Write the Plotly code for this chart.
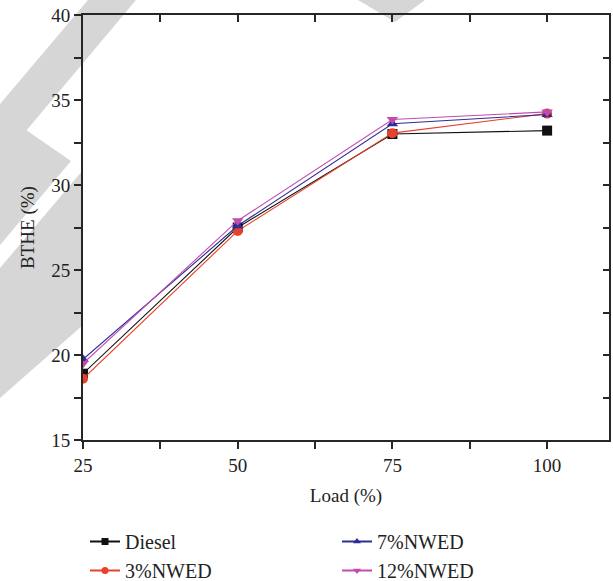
import plotly.graph_objects as go

# Brake thermal efficiency versus engine load
load = [25, 50, 75, 100]
diesel = [18.9, 27.5, 33.0, 33.2]
nwed3 = [18.6, 27.3, 33.05, 34.2]
nwed7 = [19.75, 27.6, 33.6, 34.15]
nwed12 = [19.5, 27.9, 33.85, 34.3]

names = ["Diesel", "3%NWED", "7%NWED", "12%NWED"]
colors = ["#111111", "#e8402b", "#2d2d96", "#c24bb0"]
symbols = ["square", "circle", "triangle-up", "triangle-down"]
series = [diesel, nwed3, nwed7, nwed12]
legend_ids = ["legend", "legend", "legend2", "legend2"]

W, H = 613, 581
L, R, T, B = 83, 4, 15, 141
PW, PH = W - L - R, H - T - B


def px(x, y):
    """pixel position -> paper coordinates"""
    return (x - L) / PW, (H - B - y) / PH


fig = go.Figure()

for name, vals, col, sym in zip(names, series, colors, symbols):
    fig.add_trace(go.Scatter(
        x=load, y=vals, mode="lines+markers", name=name, showlegend=False,
        line=dict(color=col, width=1.1),
        marker=dict(symbol=sym, size=10, color=col),
    ))

# legend entries with smaller markers
for name, col, sym, lg in zip(names, colors, symbols, legend_ids):
    fig.add_trace(go.Scatter(
        x=[None], y=[None], mode="lines+markers", name=name, legend=lg,
        line=dict(color=col, width=2),
        marker=dict(symbol=sym, size=7, color=col),
    ))

# carrier trace for the mirrored top/right tick axes
fig.add_trace(go.Scatter(x=[None], y=[None], xaxis="x2", yaxis="y2",
                         showlegend=False, hoverinfo="skip"))

# light grey background logo
wm = [
    [(88, 0), (136, 0), (0, 162), (0, 104)],
    [(0, 112), (71, 161), (0, 245)],
    [(0, 268), (83, 170), (83, 325), (0, 398)],
    [(358, 0), (425, 0), (395, 22)],
]
for poly in wm:
    pts = [px(x, y) for x, y in poly]
    path = "M " + " L ".join(f"{a},{b}" for a, b in pts) + " Z"
    fig.add_shape(type="path", path=path, xref="paper", yref="paper",
                  fillcolor="#d6d6d6", line=dict(width=0), layer="below")

font = "Liberation Serif, Times New Roman, serif"
axis_common = dict(showline=True, linecolor="#262626", linewidth=1.8,
                   showgrid=False, zeroline=False,
                   tickfont=dict(family=font, size=19, color="#222"),
                   tickcolor="#262626", tickwidth=1.6, ticklen=7)

fig.update_layout(
    width=W, height=H,
    margin=dict(l=L, r=R, t=T, b=B, autoexpand=False),
    paper_bgcolor="white", plot_bgcolor="white",
    font=dict(family=font, color="#222"),
    xaxis=dict(range=[25, 110], tickvals=[25, 50, 75, 100], ticks="outside",
               minor=dict(tickvals=[37.5, 62.5, 87.5], ticks="outside",
                          ticklen=7, tickwidth=1.6, tickcolor="#262626"),
               mirror=True,
               title=dict(text="Load (%)", font=dict(family=font, size=19),
                          standoff=14),
               **axis_common),
    yaxis=dict(range=[15, 40], dtick=5, ticks="outside",
               minor=dict(dtick=2.5, ticks="outside", ticklen=7,
                          tickwidth=1.6, tickcolor="#262626"),
               mirror=True,
               title=dict(text="BTHE (%)", font=dict(family=font, size=19),
                          standoff=12),
               **axis_common),
    xaxis2=dict(range=[25, 110], overlaying="x", side="top", anchor="y",
                tickvals=[25, 37.5, 50, 62.5, 75, 87.5, 100], ticks="inside",
                ticklen=7, tickwidth=1.6, tickcolor="#262626",
                showticklabels=False, showgrid=False, zeroline=False),
    yaxis2=dict(range=[15, 40], overlaying="y", side="right", anchor="x",
                dtick=2.5, ticks="inside", ticklen=6, tickwidth=1.6,
                tickcolor="#262626", showticklabels=False, showgrid=False,
                zeroline=False),
    legend=dict(x=px(85, 0)[0], y=px(0, 522)[1], xanchor="left", yanchor="top",
                orientation="v", font=dict(family=font, size=20),
                bgcolor="rgba(0,0,0,0)", tracegroupgap=0),
    legend2=dict(x=px(337, 0)[0], y=px(0, 522)[1], xanchor="left",
                 yanchor="top", orientation="v",
                 font=dict(family=font, size=20),
                 bgcolor="rgba(0,0,0,0)", tracegroupgap=0),
)

fig.write_html("out.html")
